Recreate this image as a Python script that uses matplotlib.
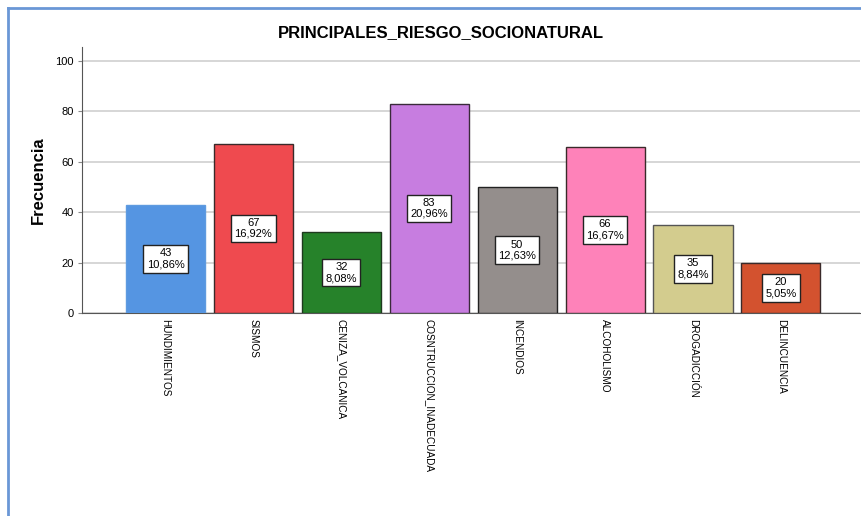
import matplotlib
matplotlib.use("Agg")
import matplotlib.pyplot as plt
from matplotlib.lines import Line2D

plt.rcParams['font.family'] = ['Liberation Sans', 'DejaVu Sans']

categories = ["HUNDIMIENTOS", "SISMOS", "CENIZA_VOLCANICA", "COSNTRUCCION_INADECUADA",
              "INCENDIOS", "ALCOHOLISMO", "DROGADICCIÓN", "DELINCUENCIA"]
counts = [43, 67, 32, 83, 50, 66, 35, 20]
percents = ["10,86%", "16,92%", "8,08%", "20,96%", "12,63%", "16,67%", "8,84%", "5,05%"]
colors = ["#5595e2", "#ef4a4f", "#26822a", "#c77de0", "#948e8c", "#fe82b9", "#d3cc8e", "#d3522f"]
edges = ["#5f9be0", "#3a2a2a", "#1f3a1f", "#3a2a3a", "#222222", "#3a2a2a", "#555555", "#3a2a2a"]
yticks = [0, 20, 40, 60, 80, 100]

fig = plt.figure(figsize=(8.61, 5.16), dpi=100)
ax = fig.add_axes([82/861, 1-313/516, (860-82)/861, (313-47)/516])

x = list(range(len(categories)))
ax.bar(x, counts, width=0.9, color=colors, edgecolor=edges, linewidth=1.0, zorder=3)
for xi, c, p in zip(x, counts, percents):
    ax.text(xi, c/2, f"{c}\n{p}", ha='center', va='center', fontsize=8,
            linespacing=1.1, zorder=4,
            bbox=dict(boxstyle='square,pad=0.3', fc='white', ec='#222222', lw=1.0))

ax.set_xlim(-0.95, 7.9)
ax.set_ylim(0, 105.5)
ax.set_yticks(yticks)
ax.set_yticklabels([str(v) for v in yticks], fontsize=8)
ax.set_xticks(x)
ax.set_xticklabels(categories, rotation=-90, fontsize=7.2, va='top', ha='center')
ax.tick_params(axis='x', length=0, pad=4)
ax.tick_params(axis='y', length=3, width=0.8, color='#888888', pad=3)
ax.grid(axis='y', color='#d0d0d0', linewidth=1.2, zorder=0)
ax.set_axisbelow(True)
for s in ['top', 'right']:
    ax.spines[s].set_visible(False)
ax.spines['left'].set_color('#555555')
ax.spines['bottom'].set_color('#555555')
ax.set_ylabel("Frecuencia", fontsize=12, fontweight='bold', labelpad=7)

fig.text(441/861, 1-33/516, "PRINCIPALES_RIESGO_SOCIONATURAL", ha='center', va='center',
         fontsize=12, fontweight='bold')

fig.add_artist(Line2D([8/861, 8/861], [0, 1-8/516], transform=fig.transFigure,
                      color='#6a97d6', lw=2))
fig.add_artist(Line2D([8/861, 1], [1-8/516, 1-8/516], transform=fig.transFigure,
                      color='#6a97d6', lw=2))

fig.savefig("out.png", dpi=100)
